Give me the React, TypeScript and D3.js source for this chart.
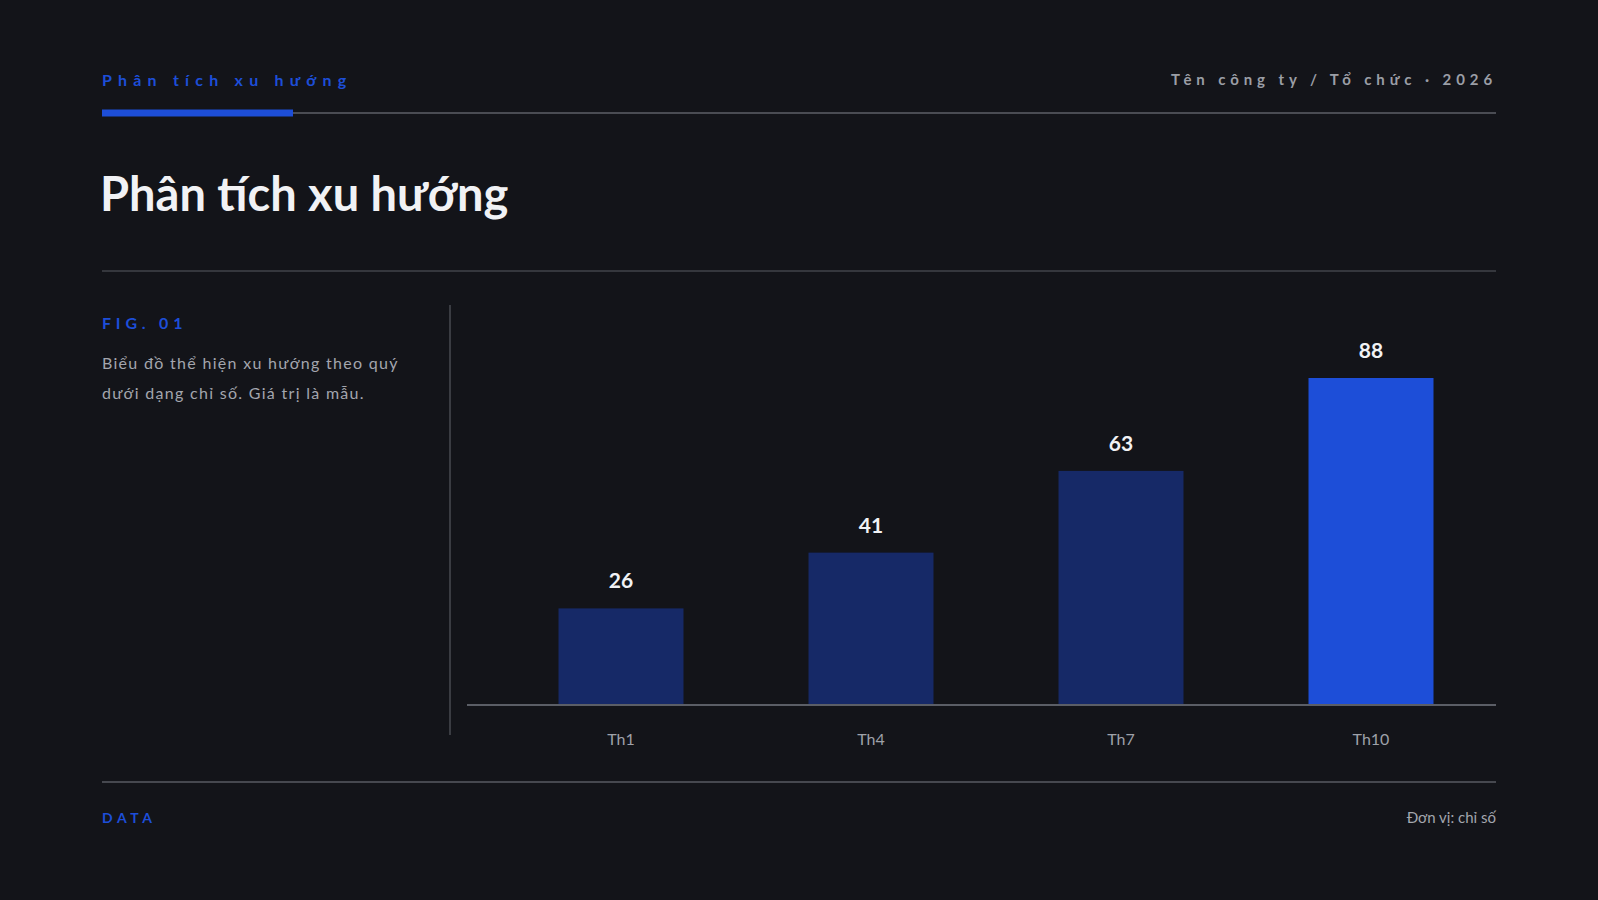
import React from "react";
import * as d3 from "d3";

const categories: string[] = ["Th1", "Th4", "Th7", "Th10"];
const values: number[] = [26, 41, 63, 88];
const highlight: boolean[] = [false, false, false, true];

const W = 1598;
const H = 900;
const BG = "#131419";
const BLUE = "#1d4ed8";
const NAVY = "#162967";
const FONT = "Lato, 'Noto Sans', sans-serif";

export default function App() {
  const x = d3.scaleBand<string>().domain(categories).range([496, 1496]).paddingInner(0.5).paddingOuter(0.25);
  const y = d3.scaleLinear().domain([0, 100]).range([705, 333.4]);

  return (
    <svg
      width={W}
      height={H}
      viewBox={`0 0 ${W} ${H}`}
      style={{ position: "fixed", left: 0, top: 0, display: "block", background: BG }}
    >
      <rect x={0} y={0} width={W} height={H} fill={BG} />

      {/* header */}
      <text x={102} y={86} fill={BLUE} fontFamily={FONT} fontWeight={700} fontSize={16} letterSpacing={6.2}>
        Phân tích xu hướng
      </text>
      <text x={1497} y={85} textAnchor="end" fill="#9b9ea6" fontFamily={FONT} fontWeight={700} fontSize={15} letterSpacing={4.9}>
        Tên công ty / Tổ chức · 2026
      </text>
      <line x1={102} x2={1496} y1={113} y2={113} stroke="#4a4c53" strokeWidth={2} />
      <rect x={102} y={109.5} width={191} height={7} fill={BLUE} />

      {/* title */}
      <text x={100} y={211} fill="#f1f2f5" fontFamily={FONT} fontWeight={700} fontSize={47}>
        Phân tích xu hướng
      </text>
      <line x1={102} x2={1496} y1={271} y2={271} stroke="#35373d" strokeWidth={2} />

      {/* left panel */}
      <text x={102} y={329} fill={BLUE} fontFamily={FONT} fontWeight={700} fontSize={16} letterSpacing={4.8}>
        FIG. 01
      </text>
      <text x={102} y={369} fill="#a3a6ae" fontFamily={FONT} fontSize={16} letterSpacing={1.3}>
        Biểu đồ thể hiện xu hướng theo quý
      </text>
      <text x={102} y={399} fill="#a3a6ae" fontFamily={FONT} fontSize={16} letterSpacing={1.3}>
        dưới dạng chỉ số. Giá trị là mẫu.
      </text>
      <line x1={450} x2={450} y1={305} y2={735} stroke="#3a3c42" strokeWidth={2} />

      {/* bars */}
      {categories.map((c, i) => {
        const bx = x(c) as number;
        const bw = x.bandwidth();
        return (
          <g key={c}>
            <rect x={bx} y={y(values[i])} width={bw} height={y(0) - y(values[i])} fill={highlight[i] ? BLUE : NAVY} />
            <text
              x={bx + bw / 2}
              y={y(values[i]) - 20}
              textAnchor="middle"
              fill="#f1f2f5"
              fontFamily={FONT}
              fontWeight={700}
              fontSize={21}
            >
              {values[i]}
            </text>
            <text x={bx + bw / 2} y={745} textAnchor="middle" fill="#9ea1a9" fontFamily={FONT} fontSize={16}>
              {c}
            </text>
          </g>
        );
      })}
      <line x1={467} x2={1496} y1={705} y2={705} stroke="#5b5e66" strokeWidth={2} />

      {/* footer */}
      <line x1={102} x2={1496} y1={782} y2={782} stroke="#46484f" strokeWidth={2} />
      <text x={102} y={823} fill={BLUE} fontFamily={FONT} fontWeight={700} fontSize={14} letterSpacing={4.6}>
        DATA
      </text>
      <text x={1496} y={823} textAnchor="end" fill="#a3a6ae" fontFamily={FONT} fontSize={15}>
        Đơn vị: chỉ số
      </text>
    </svg>
  );
}
